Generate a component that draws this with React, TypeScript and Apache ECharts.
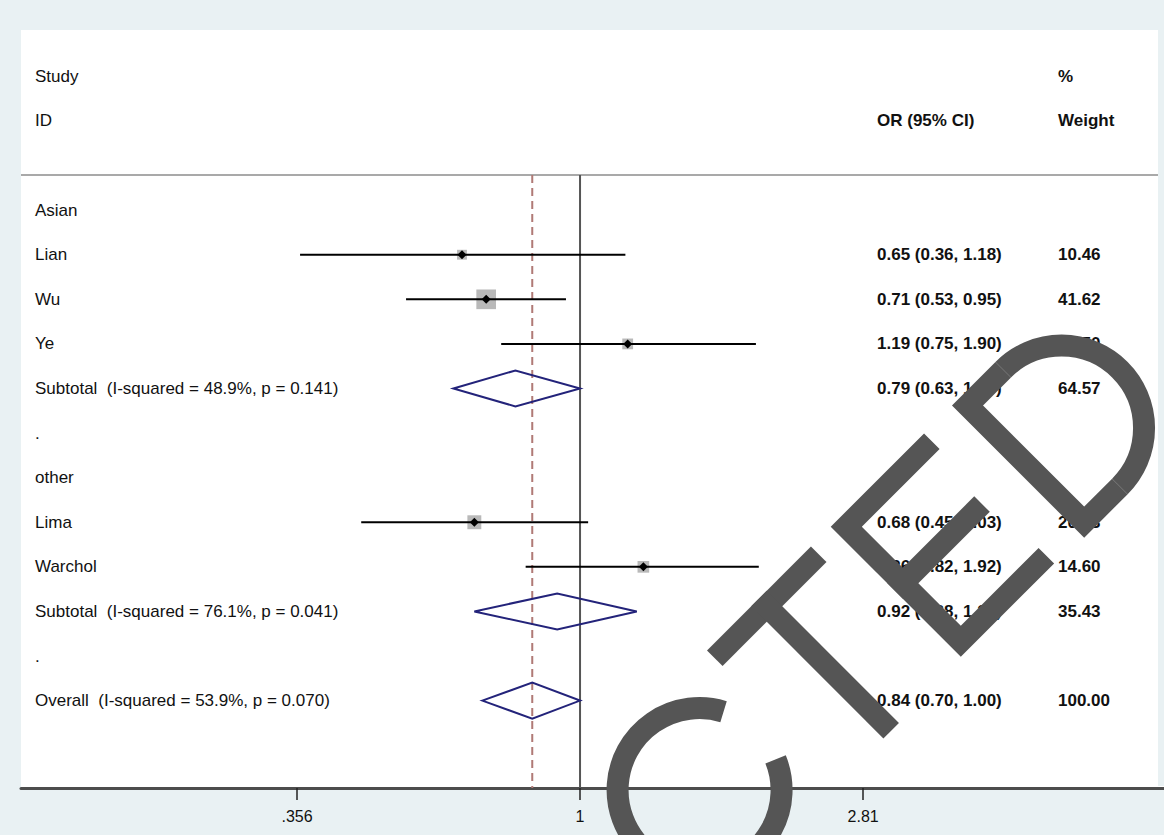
import React, { useEffect, useRef } from "react";
import * as echarts from "echarts";

// ---- data ----
const rowLabels = [
  "Asian",
  "Lian",
  "Wu",
  "Ye",
  "Subtotal  (I-squared = 48.9%, p = 0.141)",
  ".",
  "other",
  "Lima",
  "Warchol",
  "Subtotal  (I-squared = 76.1%, p = 0.041)",
  ".",
  "Overall  (I-squared = 53.9%, p = 0.070)",
];
const rowKinds = ["group", "study", "study", "study", "pooled", "blank", "group", "study", "study", "pooled", "blank", "pooled"];
const orValues = [null, 0.65, 0.71, 1.19, 0.79, null, null, 0.68, 1.26, 0.92, null, 0.84];
const ciLower = [null, 0.36, 0.53, 0.75, 0.63, null, null, 0.45, 0.82, 0.68, null, 0.7];
const ciUpper = [null, 1.18, 0.95, 1.9, 1.0, null, null, 1.03, 1.92, 1.23, null, 1.0];
const weightValues = [null, 10.46, 41.62, 12.5, 64.57, null, null, 20.83, 14.6, 35.43, null, 100.0];

const tickValues = [0.356, 1, 2.81];
const tickLabels = [".356", "1", "2.81"];

const headerLeft = ["Study", "ID"];
const headerOR = "OR (95% CI)";
const headerWeight = ["%", "Weight"];

const overallIndex = 11;

// ---- layout ----
const FONT = "'Liberation Sans', Arial, Helvetica, sans-serif";
const LABEL_X = 35;
const OR_X = 877;
const WEIGHT_X = 1058;
const SEP_ROW = -0.79;

export default function App() {
  const ref = useRef<HTMLDivElement>(null);

  useEffect(() => {
    if (!ref.current) return;
    const chart = echarts.init(ref.current, null, { renderer: "svg" });

    const rowData = rowLabels.map((_, i) => [orValues[i] != null ? Math.log(orValues[i] as number) : 0, i]);

    const textStyle = (text: string, x: number, y: number, bold: boolean) => ({
      type: "text",
      style: {
        text,
        x,
        y,
        fill: "#111",
        fontSize: 17,
        fontFamily: FONT,
        fontWeight: bold ? "bold" : "normal",
        align: "left",
        verticalAlign: "middle",
      },
    });

    const renderRow = (params: any, api: any) => {
      const i = params.dataIndex;
      const y = api.coord([0, i])[1];
      const kind = rowKinds[i];
      const children: any[] = [];
      children.push(textStyle(rowLabels[i], LABEL_X, y, false));
      const or = orValues[i];
      const lo = ciLower[i];
      const hi = ciUpper[i];
      const w = weightValues[i];
      if (or != null && lo != null && hi != null) {
        const xo = api.coord([Math.log(or), i])[0];
        const xl = api.coord([Math.log(lo), i])[0];
        const xh = api.coord([Math.log(hi), i])[0];
        if (kind === "study") {
          const s = 3.05 * Math.sqrt(w as number);
          children.push({
            type: "rect",
            shape: { x: xo - s / 2, y: y - s / 2, width: s, height: s },
            style: { fill: "#b9b9b9" },
          });
          children.push({
            type: "line",
            shape: { x1: xl, y1: y, x2: xh, y2: y },
            style: { stroke: "#000", lineWidth: 2 },
          });
          children.push({
            type: "polygon",
            shape: { points: [[xo - 4.5, y], [xo, y - 4.5], [xo + 4.5, y], [xo, y + 4.5]] },
            style: { fill: "#000" },
          });
        } else {
          children.push({
            type: "polygon",
            shape: { points: [[xl, y], [xo, y - 18], [xh, y], [xo, y + 18]] },
            style: { fill: "none", stroke: "#23237a", lineWidth: 2 },
          });
        }
        children.push(textStyle(`${or.toFixed(2)} (${lo.toFixed(2)}, ${hi.toFixed(2)})`, OR_X, y, true));
        children.push(textStyle((w as number).toFixed(2), WEIGHT_X, y, true));
      }
      return { type: "group", children };
    };

    const renderFrame = (params: any, api: any) => {
      const top = api.coord([0, SEP_ROW])[1];
      const bottom = api.coord([0, 12.96])[1];
      const x1 = api.coord([0, 0])[0];
      const xd = api.coord([Math.log(orValues[overallIndex] as number), 0])[0];
      const yStudy = api.coord([0, -3])[1];
      const yID = api.coord([0, -2])[1];
      return {
        type: "group",
        children: [
          {
            type: "rect",
            shape: { x: 1158, y: 30, width: 6, height: 756 },
            style: { fill: "#e9f1f3" },
          },
          {
            type: "line",
            shape: { x1: 21, y1: top, x2: 1158, y2: top },
            style: { stroke: "#a9a9a9", lineWidth: 2 },
          },
          {
            type: "line",
            shape: { x1, y1: top, x2: x1, y2: bottom },
            style: { stroke: "#555", lineWidth: 2 },
          },
          {
            type: "line",
            shape: { x1: xd, y1: top, x2: xd, y2: bottom },
            style: { stroke: "#b07a76", lineWidth: 2, lineDash: [8, 5] },
          },
          textStyle(headerLeft[0], LABEL_X, yStudy, false),
          textStyle(headerLeft[1], LABEL_X, yID, false),
          textStyle(headerOR, OR_X, yID, true),
          textStyle(headerWeight[0], WEIGHT_X, yStudy, true),
          textStyle(headerWeight[1], WEIGHT_X, yID, true),
        ],
      };
    };

    const wm = { stroke: "#555555", lineWidth: 22, fill: null, lineCap: "butt", lineJoin: "miter" };
    const deg = Math.PI / 180;

    chart.setOption({
      animation: false,
      backgroundColor: "#e9f1f3",
      grid: {
        left: 21,
        top: 30,
        width: 1143,
        height: 758,
        show: true,
        backgroundColor: "#ffffff",
        borderWidth: 0,
      },
      xAxis: {
        type: "value",
        min: -2.04,
        max: 2.131,
        splitLine: { show: false },
        axisLine: { show: true, onZero: false, lineStyle: { color: "#4d4d4d", width: 3 } },
        axisTick: {
          show: true,
          customValues: tickValues.map((t) => Math.log(t)),
          length: 12,
          lineStyle: { color: "#222", width: 1.5 },
        },
        axisLabel: {
          customValues: tickValues.map((t) => Math.log(t)),
          formatter: (v: number) => {
            const idx = tickValues.findIndex((t) => Math.abs(Math.log(t) - v) < 1e-6);
            return idx >= 0 ? tickLabels[idx] : "";
          },
          margin: 20,
          fontSize: 16,
          fontFamily: FONT,
          color: "#111",
        },
      },
      yAxis: {
        type: "value",
        inverse: true,
        min: -4.04,
        max: 12.96,
        show: false,
      },
      series: [
        {
          type: "custom",
          renderItem: renderFrame,
          data: [[0, 0]],
          clip: false,
          z: 1,
        },
        {
          type: "custom",
          renderItem: renderRow,
          data: rowData,
          clip: false,
          z: 3,
        },
      ],
      graphic: [
        {
          type: "group",
          x: 0,
          y: 0,
          rotation: Math.PI / 4,
          z: 100,
          children: [
            {
              type: "arc",
              z: 100,
              shape: { cx: -64, cy: 1053.5, r: 82, startAngle: 23 * deg, endAngle: 332 * deg, clockwise: true },
              style: wm,
            },
            { type: "line", z: 100, shape: { x1: 40, y1: 971, x2: 187, y2: 971 }, style: wm },
            { type: "line", z: 100, shape: { x1: 113.5, y1: 960, x2: 113.5, y2: 1147 }, style: wm },
            {
              type: "polyline",
              z: 100,
              shape: { points: [[347, 971], [226, 971], [226, 1133], [347, 1133]] },
              style: wm,
            },
            { type: "line", z: 100, shape: { x1: 215, y1: 1051, x2: 338, y2: 1051 }, style: wm },
            {
              type: "polyline",
              z: 100,
              shape: { points: [[448, 971], [397.5, 971], [397.5, 1136], [448, 1136]] },
              style: wm,
            },
            {
              type: "arc",
              z: 100,
              shape: { cx: 448, cy: 1053.5, r: 82.5, startAngle: -90 * deg, endAngle: 90 * deg, clockwise: true },
              style: wm,
            },
          ],
        },
      ],
    });

    return () => chart.dispose();
  }, []);

  return <div ref={ref} style={{ position: "absolute", left: 0, top: 0, width: 1164, height: 835 }} />;
}
